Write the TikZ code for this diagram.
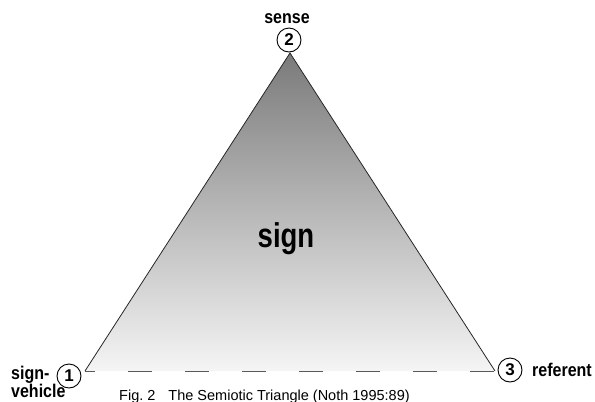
\documentclass[tikz,border=0pt]{standalone}
\usepackage{fontspec}
\setmainfont{Liberation Sans}
\begin{document}
\begin{tikzpicture}[x=1pt,y=-1pt,
  lbl/.style={font=\bfseries\fontsize{16}{18}\selectfont, inner sep=0pt},
  num/.style={circle, draw=black, line width=0.9pt, fill=white, minimum size=24pt, inner sep=0pt, font=\bfseries\fontsize{17}{18}\selectfont},
  edge/.style={draw=black!85, line width=0.8pt}]
\useasboundingbox (0,0) rectangle (595,402);
\coordinate (A) at (290,53);
\coordinate (L) at (85,371);
\coordinate (R) at (495,371);
\shade[top color=black!52, bottom color=black!4] (A) -- (R) -- (L) -- cycle;
\draw[edge] (L) -- (A) -- (R);
\draw[black!65, line width=1pt, dash pattern=on 24pt off 33pt, dash phase=14pt] (L) -- (R);
\node[num] (n2) at (289,40) {2};
\node[num] (n1) at (69,376) {1};
\node[num] (n3) at (510,370) {3};
\node[lbl, anchor=base] (sense) at (287,23) {\scalebox{1}[1.15]{sense}};
\node[lbl, anchor=base west] (sv1) at (11,379) {\scalebox{1}[1.15]{sign-}};
\node[lbl, anchor=base west] (sv2) at (11,397) {\scalebox{1}[1.15]{vehicle}};
\node[lbl, anchor=base west] (ref) at (532,376) {\scalebox{1}[1.15]{referent}};
\node[font=\bfseries\fontsize{27.5}{30}\selectfont, inner sep=0pt, anchor=base] (sign) at (286,247) {\scalebox{1}[1.25]{sign}};
\node[anchor=base west, font=\fontsize{14.5}{16}\selectfont, inner sep=0pt] (cap) at (119,400) {Fig.\ 2\hspace{13pt}The Semiotic Triangle (Noth 1995:89)};
\end{tikzpicture}
\end{document}
